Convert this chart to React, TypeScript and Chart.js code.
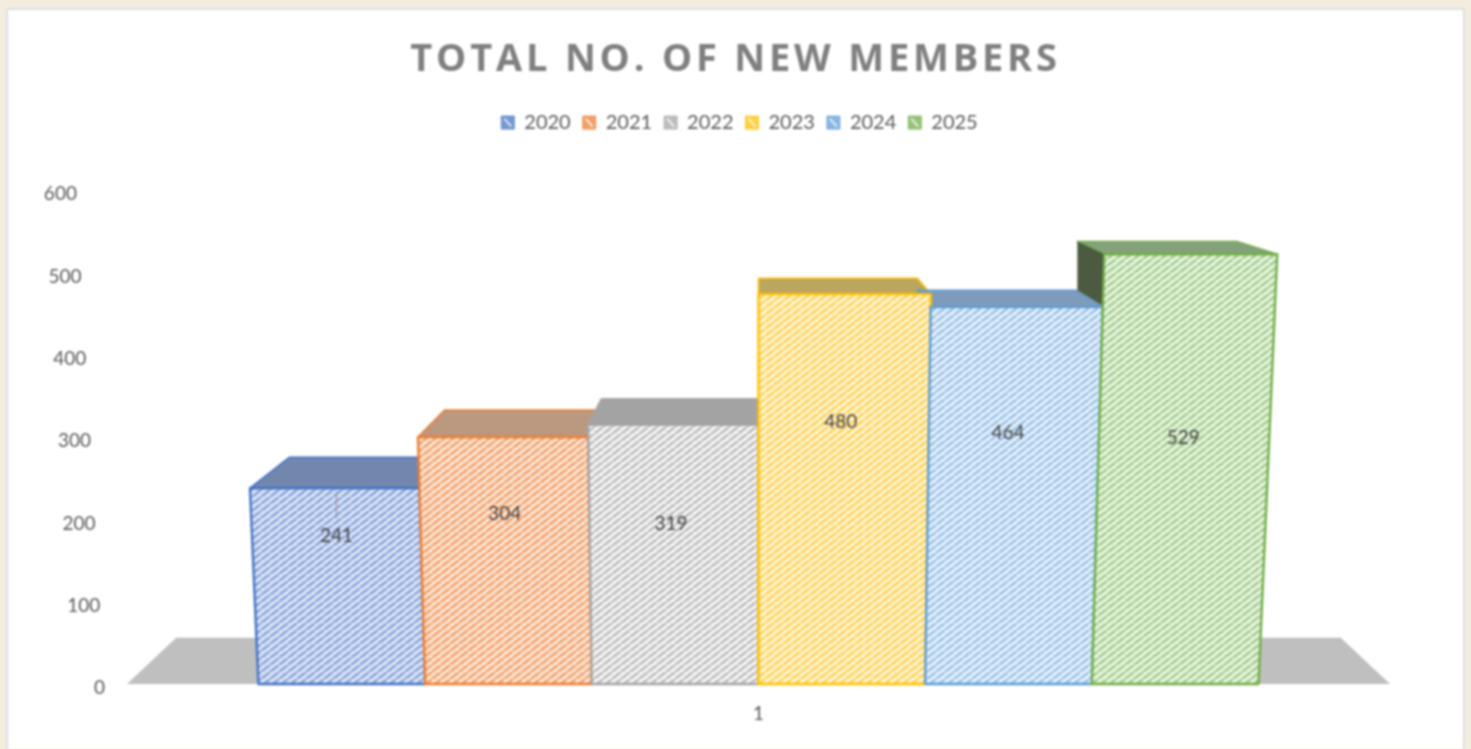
import React, { useEffect, useRef } from "react";
import { Chart, registerables } from "chart.js";

Chart.register(...registerables);

const categories = ["1"];
const seriesNames = ["2020", "2021", "2022", "2023", "2024", "2025"];
const seriesValues = [241, 304, 319, 480, 464, 529];
const seriesColors = ["#4472C4", "#ED7D31", "#A5A5A5", "#FFC000", "#5B9BD5", "#70AD47"];
const stripeLight = ["#e2e9f7", "#fdeadd", "#f8f8f8", "#fff7dd", "#ebf3fb", "#eef7e9"];
const stripeDark = ["#8aa6dd", "#f4a26b", "#bdbdbd", "#ffd257", "#9bc3e8", "#a3ce8c"];
const topColors = ["#7386ae", "#bb9880", "#a3a3a3", "#bba65f", "#7f9bbb", "#84a17c"];
const labelHeightShare = [0.762, 0.694, 0.622, 0.676, 0.67, 0.576];
const labelNudge = [0, 0, -3, -3, -6, -1];
const titleText = "TOTAL NO. OF NEW MEMBERS";

const LEAN = 8.7e-5;
const DEPTH = 0.922;
const VANISH_Y = 90;

function makeHatch(light: string, dark: string) {
  const c = document.createElement("canvas");
  c.width = 9;
  c.height = 7;
  const g = c.getContext("2d")!;
  g.fillStyle = light;
  g.fillRect(0, 0, 9, 7);
  g.strokeStyle = dark;
  g.lineWidth = 2.8;
  for (let i = -1; i <= 1; i++) {
    g.beginPath();
    g.moveTo(i * 9, 7);
    g.lineTo(i * 9 + 9, 0);
    g.stroke();
  }
  return g.createPattern(c, "repeat")!;
}

function poly(ctx: CanvasRenderingContext2D, pts: number[][]) {
  ctx.beginPath();
  pts.forEach((p, i) => (i ? ctx.lineTo(p[0], p[1]) : ctx.moveTo(p[0], p[1])));
  ctx.closePath();
}

const pagePlugin = {
  id: "page",
  beforeDraw(chart: any) {
    const { ctx, width, height } = chart;
    ctx.save();
    ctx.fillStyle = "#f3ede0";
    ctx.fillRect(0, 0, width, height);
    ctx.fillStyle = "#ffffff";
    ctx.fillRect(7, 9, 1457, height);
    ctx.strokeStyle = "#dedede";
    ctx.lineWidth = 2;
    ctx.strokeRect(7, 9, 1457, height + 10);
    ctx.restore();
    if (chart.titleBlock && !chart.titleBlock.__spaced) {
      const block = chart.titleBlock;
      const original = block.draw;
      block.__spaced = true;
      block.draw = function (...args: any[]) {
        const c = block.ctx;
        c.save();
        c.letterSpacing = "3.8px";
        original.apply(block, args);
        c.restore();
      };
    }
    if (chart.legend && !chart.legend.__shifted) {
      const legend = chart.legend;
      const original = legend.draw;
      legend.__shifted = true;
      legend.draw = function (...args: any[]) {
        const c = legend.ctx;
        c.save();
        c.translate(4, 2);
        original.apply(legend, args);
        c.strokeStyle = "rgba(255,255,255,0.75)";
        c.lineWidth = 2;
        legend.legendHitBoxes.forEach((hit: any) => {
          const cy = hit.top + hit.height / 2;
          c.beginPath();
          c.moveTo(hit.left + 3, cy - 4);
          c.lineTo(hit.left + 10, cy + 4);
          c.stroke();
        });
        c.restore();
      };
    }
  },
};

const boxesPlugin = {
  id: "boxes3d",
  beforeDatasetDraw() {
    return false;
  },
  beforeDatasetsDraw(chart: any) {
    const { ctx, chartArea } = chart;
    const vx = (chartArea.left + chartArea.right) / 2;
    const lean = (x: number, h: number) => vx + (x - vx) * (1 + LEAN * h);
    const backX = (x: number) => vx + (x - vx) * DEPTH;
    const backY = (y: number) => VANISH_Y + (y - VANISH_Y) * DEPTH;
    const b = chartArea.bottom;

    ctx.save();
    ctx.fillStyle = "#bfbfbf";
    poly(ctx, [
      [chartArea.left, b],
      [chartArea.right, b],
      [backX(chartArea.right), backY(b)],
      [backX(chartArea.left), backY(b)],
    ]);
    ctx.fill();

    ctx.lineJoin = "round";
    const bars = seriesValues.map((_, i) => chart.getDatasetMeta(i).data[0]);
    const corners = (el: any) => {
      const h = el.base - el.y;
      return [lean(el.x - el.width / 2, h), lean(el.x + el.width / 2, h)];
    };

    bars.forEach((el: any, i: number) => {
      const [tlx, trx] = corners(el);
      ctx.strokeStyle = seriesColors[i];
      ctx.lineWidth = 1.6;
      poly(ctx, [
        [tlx, el.y],
        [trx, el.y],
        [backX(trx), backY(el.y)],
        [backX(tlx), backY(el.y)],
      ]);
      ctx.fillStyle = topColors[i];
      ctx.fill();
      ctx.stroke();

      const prev = bars[i - 1];
      if (prev && el.x > vx && el.y < prev.y) {
        poly(ctx, [
          [tlx, el.y],
          [backX(tlx), backY(el.y)],
          [backX(tlx), backY(prev.y)],
          [tlx, prev.y],
        ]);
        ctx.fillStyle = "#4c5a40";
        ctx.fill();
      }
    });

    bars.forEach((el: any, i: number) => {
      const [tlx, trx] = corners(el);
      poly(ctx, [
        [tlx, el.y],
        [trx, el.y],
        [el.x + el.width / 2, el.base],
        [el.x - el.width / 2, el.base],
      ]);
      ctx.fillStyle = chart.data.datasets[i].backgroundColor;
      ctx.fill();
      ctx.strokeStyle = seriesColors[i];
      ctx.lineWidth = 2.4;
      ctx.stroke();
    });
    ctx.restore();
  },
  afterDatasetsDraw(chart: any) {
    const { ctx, chartArea } = chart;
    const vx = (chartArea.left + chartArea.right) / 2;
    ctx.save();
    ctx.font = "19px Lato";
    ctx.textAlign = "center";
    ctx.textBaseline = "middle";
    seriesValues.forEach((v, i) => {
      const el: any = chart.getDatasetMeta(i).data[0];
      const h = (el.base - el.y) * labelHeightShare[i];
      const x = vx + (el.x - vx) * (1 + LEAN * h) + labelNudge[i];
      const y = el.base - h + 1;
      if (i === 0) {
        ctx.strokeStyle = "#9a9a9a";
        ctx.lineWidth = 1.2;
        ctx.beginPath();
        ctx.moveTo(x, el.y + 3);
        ctx.lineTo(x, y - 17);
        ctx.stroke();
      }
      ctx.fillStyle = "#404040";
      ctx.fillText(String(v), x, y);
    });
    ctx.restore();
  },
  afterDraw(chart: any) {
    const { ctx, chartArea, scales } = chart;
    const vx = (chartArea.left + chartArea.right) / 2;
    const yScale = scales.y;
    ctx.save();
    ctx.font = "19px Lato";
    ctx.fillStyle = "#595959";
    ctx.textAlign = "right";
    ctx.textBaseline = "middle";
    yScale.ticks.forEach((t: any, i: number) => {
      const y = yScale.getPixelForTick(i);
      const h = chartArea.bottom - y;
      ctx.fillText(String(t.value), vx + (105 - vx) * (1 + LEAN * h), y + 4);
    });
    ctx.restore();
  },
};

export default function App() {
  const ref = useRef<HTMLCanvasElement>(null);
  useEffect(() => {
    const chart = new Chart(ref.current!, {
      type: "bar",
      data: {
        labels: categories,
        datasets: seriesNames.map((name, i) => ({
          label: name,
          data: [seriesValues[i]],
          yAxisID: "yFront",
          backgroundColor: makeHatch(stripeLight[i], stripeDark[i]),
          borderColor: seriesColors[i],
          borderWidth: 1,
        })),
      },
      options: {
        responsive: false,
        animation: false,
        events: [],
        datasets: { bar: { barPercentage: 1, categoryPercentage: 0.7918 } },
        plugins: {
          tooltip: { enabled: false },
          title: {
            display: true,
            text: titleText,
            color: "#7f7f7f",
            font: { family: "'Open Sans'", size: 38, weight: "bold" },
            padding: { top: 37, bottom: 16 },
          },
          legend: {
            display: true,
            position: "top",
            labels: {
              boxWidth: 13,
              boxHeight: 13,
              padding: 12,
              color: "#595959",
              font: { family: "Lato", size: 20 },
              generateLabels() {
                return seriesNames.map((name, i) => ({
                  text: name,
                  fillStyle: seriesColors[i] + "bb",
                  strokeStyle: seriesColors[i] + "bb",
                  lineWidth: 1,
                  datasetIndex: i,
                  fontColor: "#595959",
                }));
              },
            },
          },
        },
        scales: {
          x: {
            grid: { display: false },
            border: { display: false },
            ticks: { color: "#595959", font: { family: "Lato", size: 19 }, padding: 10 },
            afterFit(s: any) {
              s.height = 65;
            },
          },
          y: {
            min: 0,
            max: 660.4,
            grid: { display: false },
            border: { display: false },
            ticks: { stepSize: 100, includeBounds: false, display: false },
            afterFit(s: any) {
              s.width = 127;
            },
          },
          yFront: {
            display: true,
            position: "right",
            min: 0,
            max: 669,
            grid: { display: false },
            border: { display: false },
            ticks: { display: false },
            afterFit(s: any) {
              s.width = 81;
            },
          },
        },
      } as any,
      plugins: [pagePlugin, boxesPlugin] as any,
    });
    chart.draw();
    return () => chart.destroy();
  }, []);
  return (
    <div style={{ position: "fixed", inset: 0, overflow: "hidden", background: "#f3ede0" }}>
      <canvas
        ref={ref}
        width={1471}
        height={749}
        style={{ display: "block", width: 1471, height: 749, filter: "blur(0.85px)" }}
      />
    </div>
  );
}
